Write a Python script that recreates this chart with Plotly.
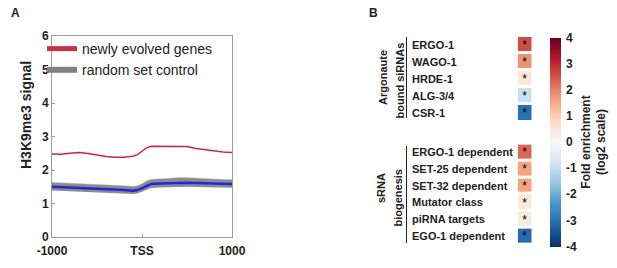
import plotly.graph_objects as go

W, H = 617, 268

# ---------- Panel A data ----------
x_pos = [-1000, -900, -800, -700, -600, -500, -400, -300, -200, -100, -50, 0, 50,
         100, 200, 300, 400, 500, 600, 700, 800, 900, 1000]
newly_evolved = [2.48, 2.47, 2.50, 2.52, 2.49, 2.44, 2.40, 2.38, 2.38, 2.41, 2.46, 2.56, 2.66,
                 2.71, 2.71, 2.70, 2.69, 2.70, 2.64, 2.60, 2.58, 2.54, 2.52]
random_mean = [1.50, 1.49, 1.48, 1.47, 1.46, 1.45, 1.44, 1.42, 1.40, 1.38, 1.40, 1.46, 1.53,
               1.58, 1.60, 1.61, 1.62, 1.62, 1.61, 1.61, 1.60, 1.59, 1.58]
random_hi = [1.63, 1.62, 1.61, 1.60, 1.59, 1.58, 1.57, 1.55, 1.53, 1.51, 1.53, 1.59, 1.67,
             1.72, 1.74, 1.75, 1.77, 1.77, 1.75, 1.74, 1.73, 1.72, 1.71]
random_lo = [1.39, 1.38, 1.37, 1.36, 1.35, 1.34, 1.33, 1.31, 1.29, 1.28, 1.30, 1.35, 1.42,
             1.46, 1.48, 1.49, 1.50, 1.50, 1.49, 1.49, 1.48, 1.48, 1.47]
x_tickvals = [-1000, 0, 1000]
x_ticktext = ["-1000", "TSS", "1000"]
y_tickvals = [0, 1, 2, 3, 4, 5, 6]

# ---------- Panel B data ----------
argonaute_labels = ["ERGO-1", "WAGO-1", "HRDE-1", "ALG-3/4", "CSR-1"]
argonaute_values = [2.6, 1.8, 0.5, -0.9, -3.0]
biogenesis_labels = ["ERGO-1 dependent", "SET-25 dependent", "SET-32 dependent",
                     "Mutator class", "piRNA targets", "EGO-1 dependent"]
biogenesis_values = [2.3, 1.6, 1.6, 0.4, 0.4, -3.1]
cbar_tickvals = [4, 3, 2, 1, 0, -1, -2, -3, -4]
cbar_ticktext = ["4", "3", "2", "1", "0", "-1", "-2", "-3", "-4"]

rdbu = ['rgb(5,48,97)', 'rgb(33,102,172)', 'rgb(67,147,195)', 'rgb(146,197,222)',
        'rgb(209,229,240)', 'rgb(247,247,247)', 'rgb(253,219,199)', 'rgb(244,165,130)',
        'rgb(214,96,77)', 'rgb(178,24,43)', 'rgb(103,0,31)']
colorscale = [[i / (len(rdbu) - 1), c] for i, c in enumerate(rdbu)]

FONT = "Liberation Sans, Arial, sans-serif"

def px_x(p):
    return p / W

def px_y(p):
    return 1 - p / H

fig = go.Figure()

# grey band (random set controls)
fig.add_trace(go.Scatter(x=x_pos, y=random_lo, mode="lines", line=dict(width=0, color="rgba(0,0,0,0)"),
                         showlegend=False, hoverinfo="skip", xaxis="x", yaxis="y"))
fig.add_trace(go.Scatter(x=x_pos, y=random_hi, mode="lines", line=dict(width=0.5, color="rgb(175,175,175)"),
                         fill="tonexty", fillcolor="rgb(140,140,140)",
                         showlegend=False, hoverinfo="skip", xaxis="x", yaxis="y"))
fig.add_trace(go.Scatter(x=x_pos, y=random_mean, mode="lines", line=dict(width=2.5, color="rgb(30,40,220)"),
                         showlegend=False, xaxis="x", yaxis="y"))
fig.add_trace(go.Scatter(x=x_pos, y=newly_evolved, mode="lines", line=dict(width=1.5, color="rgb(200,40,60)"),
                         showlegend=False, xaxis="x", yaxis="y"))
# legend entries
fig.add_trace(go.Scatter(x=[None], y=[None], mode="lines", line=dict(width=5, color="rgb(200,50,70)"),
                         name="newly evolved genes", xaxis="x", yaxis="y"))
fig.add_trace(go.Scatter(x=[None], y=[None], mode="lines", line=dict(width=6, color="rgb(128,128,128)"),
                         name="random set control", xaxis="x", yaxis="y"))

# heatmaps
fig.add_trace(go.Heatmap(z=[[v] for v in argonaute_values], y=argonaute_labels, x=["FE"],
                         text=[["*"] for _ in argonaute_values], texttemplate="%{text}",
                         textfont=dict(size=12, color="black", family=FONT),
                         coloraxis="coloraxis", ygap=3, xaxis="x2", yaxis="y2"))
fig.add_trace(go.Heatmap(z=[[v] for v in biogenesis_values], y=biogenesis_labels, x=["FE"],
                         text=[["*"] for _ in biogenesis_values], texttemplate="%{text}",
                         textfont=dict(size=12, color="black", family=FONT),
                         coloraxis="coloraxis", ygap=3, xaxis="x3", yaxis="y3"))

axis_font = dict(family=FONT, size=12, color="#222", weight="bold")
lab_font = dict(family=FONT, size=11, color="#222", weight="bold")

annotations = [
    dict(text="A", x=px_x(15), y=px_y(13), xref="paper", yref="paper", showarrow=False,
         xanchor="center", yanchor="middle",
         font=dict(family=FONT, size=12, color="#222", weight="bold")),
    dict(text="B", x=px_x(373), y=px_y(13), xref="paper", yref="paper", showarrow=False,
         xanchor="center", yanchor="middle",
         font=dict(family=FONT, size=12, color="#222", weight="bold")),
    dict(text="H3K9me3 signal", x=px_x(26), y=px_y(115), xref="paper", yref="paper",
         showarrow=False, xanchor="center", yanchor="middle", textangle=-90,
         font=dict(family=FONT, size=14, color="#222", weight="bold")),
    dict(text="Argonaute", x=px_x(383), y=px_y(78), xref="paper", yref="paper", showarrow=False,
         xanchor="center", yanchor="middle", textangle=-90, font=lab_font),
    dict(text="bound siRNAs", x=px_x(399.5), y=px_y(81), xref="paper", yref="paper", showarrow=False,
         xanchor="center", yanchor="middle", textangle=-90, font=lab_font),
    dict(text="sRNA", x=px_x(381), y=px_y(188), xref="paper", yref="paper", showarrow=False,
         xanchor="center", yanchor="middle", textangle=-90, font=lab_font),
    dict(text="biogenesis", x=px_x(397.5), y=px_y(198), xref="paper", yref="paper", showarrow=False,
         xanchor="center", yanchor="middle", textangle=-90, font=lab_font),
]
for lab in argonaute_labels:
    annotations.append(dict(text=lab, x=px_x(410), y=lab, xref="paper", yref="y2", xanchor="left",
                            showarrow=False, font=lab_font))
for lab in biogenesis_labels:
    annotations.append(dict(text=lab, x=px_x(410), y=lab, xref="paper", yref="y3", xanchor="left",
                            showarrow=False, font=lab_font))

shapes = [
    dict(type="line", xref="paper", yref="paper", x0=px_x(406.5), x1=px_x(406.5),
         y0=px_y(37), y1=px_y(118), line=dict(color="#222", width=1)),
    dict(type="line", xref="paper", yref="paper", x0=px_x(406.5), x1=px_x(406.5),
         y0=px_y(146), y1=px_y(243), line=dict(color="#222", width=1)),
]

hidden = dict(visible=False, showgrid=False, zeroline=False)

fig.update_layout(
    width=W, height=H, autosize=False,
    margin=dict(l=0, r=0, t=0, b=0),
    paper_bgcolor="white", plot_bgcolor="white",
    font=dict(family=FONT, color="#222"),
    xaxis=dict(domain=[px_x(52), px_x(232)], range=[-1000, 1000], tickvals=x_tickvals,
               ticktext=x_ticktext, tickfont=axis_font, showline=True, mirror=True,
               linecolor="#9a9a9a", linewidth=1, showgrid=False, zeroline=False,
               ticks="inside", ticklen=3, tickcolor="#9a9a9a", automargin=False, anchor="y",
               ticklabelstandoff=3),
    yaxis=dict(domain=[px_y(237), px_y(36)], range=[0, 6], tickvals=y_tickvals,
               tickfont=axis_font, showline=True, mirror=True, linecolor="#9a9a9a",
               linewidth=1, showgrid=False, zeroline=False, ticks="inside", ticklen=3,
               tickcolor="#9a9a9a", automargin=False, anchor="x"),
    xaxis2=dict(domain=[px_x(517.7), px_x(531.7)], anchor="y2", **hidden),
    yaxis2=dict(domain=[px_y(121.5), px_y(36)], anchor="x2", type="category",
                autorange="reversed", **hidden),
    xaxis3=dict(domain=[px_x(517.7), px_x(531.7)], anchor="y3", **hidden),
    yaxis3=dict(domain=[px_y(244.4), px_y(143.6)], anchor="x3", type="category",
                autorange="reversed", **hidden),
    coloraxis=dict(colorscale=colorscale, cmin=-4, cmax=4,
                   colorbar=dict(x=px_x(550), xanchor="left", xpad=0, ypad=0,
                                 y=px_y(142), yanchor="middle", len=209, lenmode="pixels",
                                 thickness=11, thicknessmode="pixels", outlinewidth=0,
                                 tickvals=cbar_tickvals, ticktext=cbar_ticktext,
                                 ticks="outside", ticklen=3, tickcolor="white",
                                 tickfont=dict(family=FONT, size=12, color="#222", weight="bold"),
                                 title=dict(text="Fold enrichment<br>(log2 scale)", side="right",
                                            font=dict(family=FONT, size=12, color="#222",
                                                      weight="bold")))),
    legend=dict(x=px_x(42), y=px_y(33), xanchor="left", yanchor="top", traceorder="normal",
                bgcolor="rgba(0,0,0,0)", borderwidth=0,
                font=dict(family=FONT, size=14, color="#222"), tracegroupgap=0),
    annotations=annotations,
    shapes=shapes,
)

fig.write_html("out.html", config={"displayModeBar": False},
               post_script="document.body.style.margin='0';document.body.style.padding='0';")
